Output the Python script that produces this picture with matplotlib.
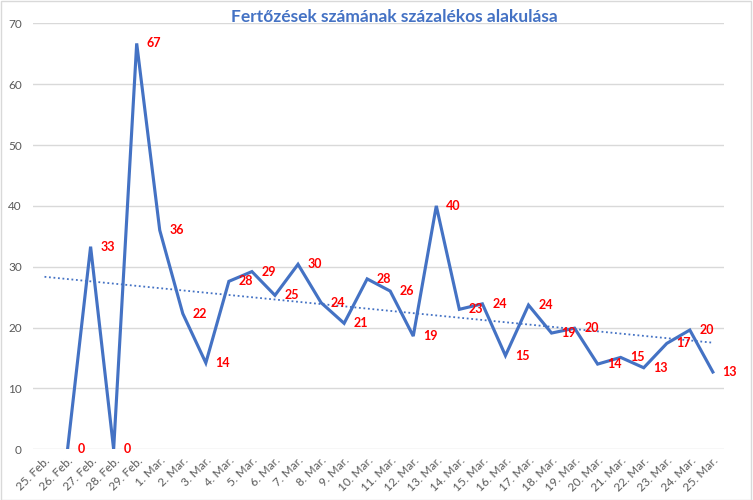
import matplotlib.pyplot as plt
import numpy as np
from matplotlib.patches import Rectangle

plt.rcParams['font.family'] = ['Lato', 'DejaVu Sans']

# x categories
dates = ["25. Feb.", "26. Feb.", "27. Feb.", "28. Feb.", "29. Feb."] + \
        [f"{d}. Mar." for d in range(1, 26)]

# percent change, 25. Feb. has no value
values = [np.nan, 0, 33.3, 0, 66.7, 36.0, 22.3, 14.2, 27.6, 29.2, 25.3, 30.4,
          24.1, 20.7, 28.0, 26.0, 18.6, 40.0, 23.0, 23.9, 15.4, 23.7, 19.1,
          19.9, 14.0, 15.1, 13.4, 17.4, 19.6, 12.7]

blue = "#4472C4"
grey = "#595959"

fig = plt.figure(figsize=(7.53, 5.0), dpi=100)
ax = fig.add_axes([0.0438, 0.1014, 0.9182, 0.8520])

x = np.arange(len(dates))
y = np.array(values)
ax.plot(x, y, color=blue, lw=2.25, solid_joinstyle="miter", zorder=3)

# linear trendline like excel
ok = ~np.isnan(y)
k, b = np.polyfit(x[ok], y[ok], 1)
ax.plot([x[0], x[-1]], [k * x[0] + b, k * x[-1] + b], color=blue, lw=1.3,
        ls=(0, (1, 1.5)), zorder=2)

for xi, yi in zip(x, y):
    if np.isnan(yi):
        continue
    ax.annotate(f"{yi:.0f}", (xi, yi), xytext=(7, 0), textcoords="offset points",
                ha="left", va="center", color="red", fontweight="bold",
                fontsize=9, zorder=4)

ax.set_xlim(-0.5, len(dates) - 0.5)
ax.set_ylim(0, 70)
ax.set_yticks(range(0, 71, 10))
ax.set_xticks(x)
ax.set_xticklabels(dates, rotation=45, ha="right", rotation_mode="anchor")
ax.tick_params(axis="both", length=0, colors=grey, labelsize=8.5)
ax.tick_params(axis="x", pad=4)
ax.tick_params(axis="y", pad=8)
ax.grid(axis="y", color="#D9D9D9", lw=1)
ax.set_axisbelow(True)
for s in ax.spines.values():
    s.set_visible(False)

fig.text(0.524, 0.966, "Fertőzések számának százalékos alakulása", color=blue,
         fontweight="bold", fontsize=12.5, ha="center", va="center")

fig.patches.append(Rectangle((0.001, 0.001), 0.997, 0.997, transform=fig.transFigure,
                             fill=False, edgecolor="#D9D9D9", lw=1))

fig.savefig("out.png", dpi=100)
